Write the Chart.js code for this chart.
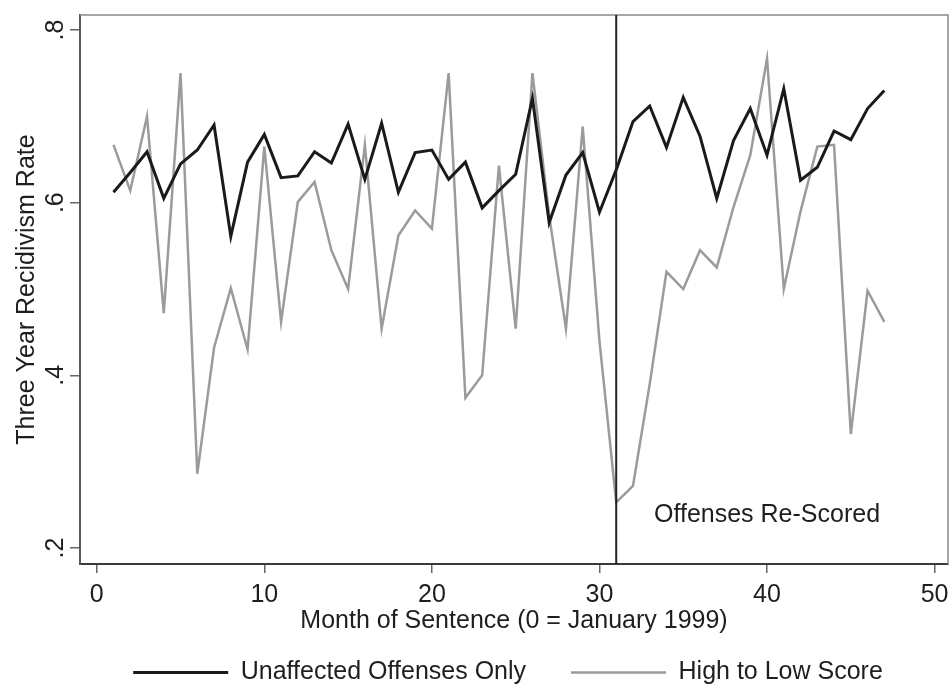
<!DOCTYPE html>
<html>
<head>
<meta charset="utf-8">
<script src="https://cdn.jsdelivr.net/npm/chart.js@4.4.1/dist/chart.umd.min.js"></script>
<style>
    html, body { margin: 0; padding: 0; background: #fff; }
</style>
</head>
<body>
<canvas id="recidivismChart" width="951" height="685"></canvas>
<script>
// 월별 3년 재범률
var months = [1, 2, 3, 4, 5, 6, 7, 8, 9, 10, 11, 12, 13, 14, 15, 16, 17, 18, 19, 20, 21, 22, 23, 24,
              25, 26, 27, 28, 29, 30, 31, 32, 33, 34, 35, 36, 37, 38, 39, 40, 41, 42, 43, 44, 45, 46, 47];
var unaffectedOnly = [0.612, 0.635, 0.659, 0.605, 0.645, 0.661, 0.690, 0.561, 0.647, 0.679, 0.629, 0.631,
                      0.659, 0.646, 0.691, 0.627, 0.692, 0.612, 0.658, 0.661, 0.627, 0.647, 0.594, 0.614,
                      0.633, 0.721, 0.577, 0.632, 0.658, 0.589, 0.638, 0.694, 0.712, 0.664, 0.722, 0.677,
                      0.605, 0.672, 0.709, 0.655, 0.732, 0.626, 0.641, 0.683, 0.673, 0.709, 0.730];
var highToLow = [0.667, 0.614, 0.700, 0.472, 0.750, 0.286, 0.432, 0.501, 0.430, 0.665, 0.462, 0.601,
                 0.624, 0.545, 0.500, 0.667, 0.454, 0.562, 0.591, 0.570, 0.750, 0.374, 0.400, 0.643,
                 0.454, 0.750, 0.585, 0.454, 0.688, 0.440, 0.253, 0.272, 0.390, 0.520, 0.500, 0.545,
                 0.525, 0.595, 0.655, 0.767, 0.500, 0.590, 0.665, 0.667, 0.332, 0.498, 0.462];
var xTicks = [0, 10, 20, 30, 40, 50];
var yTicks = [0.2, 0.4, 0.6, 0.8];
var yTickLabels = ['.2', '.4', '.6', '.8'];
var rescoreMonth = 31;
var rescoreLabel = 'Offenses Re-Scored';
var rescoreLabelAt = [40, 0.238];

var fontFamily = '"Liberation Sans", Arial, Helvetica, sans-serif';
var textColor = '#1e1e1e';

function toPoints(values) {
    return months.map(function(m, i) { return {x: m, y: values[i]}; });
}

var frameAndMarker = {
    id: 'frameAndMarker',
    afterLayout: function(chart) {
        // 범례를 그림 영역 아래쪽 가운데로 이동
        chart.legend.left += 34;
        chart.legend.right += 34;
    },
    beforeDatasetsDraw: function(chart) {
        var ctx = chart.ctx, a = chart.chartArea;
        ctx.save();
        ctx.strokeStyle = '#8a8a8a';
        ctx.lineWidth = 1.5;
        ctx.beginPath();
        ctx.moveTo(a.left, a.top);
        ctx.lineTo(a.right, a.top);
        ctx.lineTo(a.right, a.bottom);
        ctx.stroke();
        ctx.restore();
    },
    afterDatasetsDraw: function(chart) {
        var ctx = chart.ctx, a = chart.chartArea;
        var xs = chart.scales.x, ys = chart.scales.y;
        var px = xs.getPixelForValue(rescoreMonth);
        ctx.save();
        ctx.strokeStyle = '#222';
        ctx.lineWidth = 2;
        ctx.beginPath();
        ctx.moveTo(px, a.top);
        ctx.lineTo(px, a.bottom);
        ctx.stroke();

        ctx.fillStyle = textColor;
        ctx.font = '25px ' + fontFamily;
        ctx.textAlign = 'center';
        ctx.textBaseline = 'middle';
        ctx.fillText(rescoreLabel, xs.getPixelForValue(rescoreLabelAt[0]), ys.getPixelForValue(rescoreLabelAt[1]));
        ctx.restore();
    }
};

var ctx = document.getElementById('recidivismChart').getContext('2d');
var recidivismChart = new Chart(ctx, {
    type: 'line',
    data: {
        datasets: [
            {
                label: 'Unaffected Offenses Only',
                data: toPoints(unaffectedOnly),
                borderColor: '#1a1a1a',
                backgroundColor: '#1a1a1a',
                borderWidth: 3,
                pointRadius: 0,
                tension: 0
            },
            {
                label: 'High to Low Score',
                data: toPoints(highToLow),
                borderColor: '#9b9b9b',
                backgroundColor: '#9b9b9b',
                borderWidth: 2.5,
                pointRadius: 0,
                tension: 0
            }
        ]
    },
    options: {
        responsive: false,
        animation: false,
        devicePixelRatio: 1,
        layout: { padding: { left: 0, right: 3, top: 15, bottom: 0 } },
        scales: {
            x: {
                type: 'linear',
                min: -1,
                max: 50.8,
                afterBuildTicks: function(s) { s.ticks = xTicks.map(function(v) { return {value: v}; }); },
                afterFit: function(s) { s.height = 51; s.paddingLeft = 0; s.paddingRight = 0; },
                grid: { display: true, drawOnChartArea: false, drawTicks: true, tickLength: 9, color: '#666', lineWidth: 1.5 },
                border: { display: true, color: '#3a3a3a', width: 2 },
                ticks: {
                    font: { family: fontFamily, size: 25, lineHeight: 1 },
                    color: textColor,
                    padding: 10,
                    maxRotation: 0,
                    autoSkip: false
                },
                title: {
                    display: true,
                    text: 'Month of Sentence (0 = January 1999)',
                    font: { family: fontFamily, size: 25, lineHeight: 1 },
                    color: textColor,
                    padding: { top: 0, bottom: -18.5 }
                }
            },
            y: {
                type: 'linear',
                min: 0.1815,
                max: 0.8174,
                afterBuildTicks: function(s) { s.ticks = yTicks.map(function(v) { return {value: v}; }); },
                afterFit: function(s) { s.width = 80; s.paddingTop = 0; s.paddingBottom = 0; },
                grid: { display: true, drawOnChartArea: false, drawTicks: true, tickLength: 10, color: '#666', lineWidth: 1.5 },
                border: { display: true, color: '#5a5a5a', width: 2 },
                ticks: {
                    font: { family: fontFamily, size: 25, lineHeight: 1 },
                    color: textColor,
                    padding: 3,
                    minRotation: 90,
                    maxRotation: 90,
                    crossAlign: 'center',
                    autoSkip: false,
                    callback: function(value, index) { return yTickLabels[index]; }
                },
                title: {
                    display: true,
                    text: 'Three Year Recidivism Rate',
                    font: { family: fontFamily, size: 25, lineHeight: 1 },
                    color: textColor,
                    padding: { top: 15, bottom: 0 }
                }
            }
        },
        plugins: {
            tooltip: { enabled: false },
            legend: {
                position: 'bottom',
                maxHeight: 70,
                labels: {
                    usePointStyle: true,
                    pointStyle: 'line',
                    pointStyleWidth: 95,
                    padding: 45,
                    color: textColor,
                    font: { family: fontFamily, size: 25, lineHeight: 1 }
                }
            }
        }
    },
    plugins: [frameAndMarker]
});
</script>
</body>
</html>
